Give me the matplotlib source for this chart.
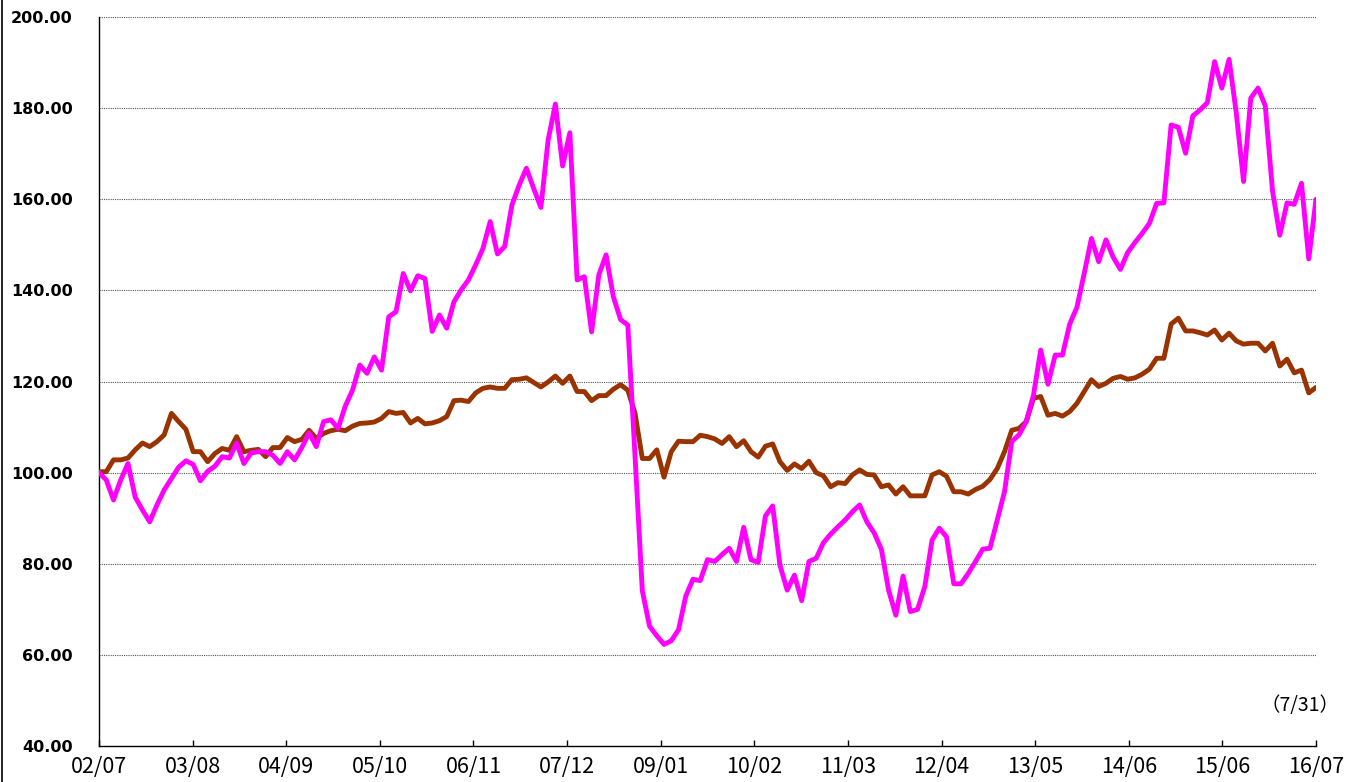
import numpy as np
import matplotlib
matplotlib.use("Agg")
import matplotlib.pyplot as plt
from matplotlib.lines import Line2D

# tick labels on the category axis (yy/mm)
tick_labels = ['02/07', '03/08', '04/09', '05/10', '06/11', '07/12', '09/01',
               '10/02', '11/03', '12/04', '13/05', '14/06', '15/06', '16/07']

# magenta series (monthly, start = 100)
pink_vals = [
    100, 98.4, 94, 98.4, 102, 94.6, 91.8, 89.2, 92.9, 96.2,
    98.7, 101.2, 102.6, 101.8, 98.2, 100.3, 101.4, 103.5, 103.2, 106.5,
    102, 104.3, 104.6, 104.6, 103.8, 102, 104.6, 102.8, 105.5, 108.7,
    105.7, 111.2, 111.6, 109.7, 114.6, 118.1, 123.6, 121.8, 125.4, 122.5,
    134.2, 135.3, 143.7, 139.9, 143.2, 142.6, 131, 134.6, 131.7, 137.5,
    140.1, 142.3, 145.6, 149.2, 155.1, 148, 149.6, 158.7, 163.1, 166.8,
    162.4, 158.2, 173, 180.9, 167.3, 174.6, 142.3, 143, 130.9, 143.4,
    147.8, 138.6, 133.6, 132.4, 103.5, 74.1, 66.3, 64.2, 62.3, 63.1,
    65.5, 72.9, 76.6, 76.3, 80.9, 80.5, 82, 83.4, 80.5, 88,
    80.9, 80.3, 90.5, 92.7, 79.7, 74.2, 77.5, 71.9, 80.5, 81.2,
    84.6, 86.5, 88.1, 89.6, 91.4, 92.9, 89.2, 86.8, 83.2, 74.2,
    68.7, 77.3, 69.5, 70, 75, 85.2, 87.8, 85.9, 75.6, 75.6,
    77.9, 80.5, 83.2, 83.4, 89.6, 95.8, 106.8, 108.3, 111.2, 117,
    126.9, 119.4, 125.8, 125.8, 132.6, 136.3, 143.7, 151.4, 146.3, 151.1,
    147.3, 144.6, 148.3, 150.5, 152.5, 154.7, 159.1, 159.2, 176.3, 175.8,
    170.1, 178.3, 179.6, 181.2, 190.2, 184.4, 190.7, 178.9, 163.9, 182.2,
    184.4, 180.5, 161.8, 152.1, 159.2, 158.9, 163.5, 146.9, 160,
]

# brown series (monthly, start = 100)
brown_vals = [
    100.2, 100.2, 102.8, 102.8, 103.2, 105, 106.5, 105.7, 106.8, 108.3,
    113, 111.2, 109.5, 104.6, 104.6, 102.4, 104.2, 105.3, 104.9, 107.9,
    104.6, 104.9, 105.1, 103.5, 105.5, 105.5, 107.7, 106.8, 107.3, 109.3,
    107.5, 108.6, 109.2, 109.5, 109.2, 110.2, 110.8, 110.9, 111.1, 111.9,
    113.4, 113, 113.2, 110.9, 111.9, 110.7, 110.9, 111.4, 112.3, 115.8,
    115.9, 115.6, 117.5, 118.5, 118.8, 118.5, 118.5, 120.4, 120.5, 120.8,
    119.8, 118.8, 119.9, 121.2, 119.6, 121.2, 117.8, 117.8, 115.8, 116.9,
    116.9, 118.3, 119.3, 118.1, 113, 103.1, 103.1, 105, 99, 104.6,
    106.9, 106.8, 106.8, 108.2, 107.9, 107.4, 106.4, 107.9, 105.7, 107,
    104.6, 103.4, 105.8, 106.3, 102.4, 100.5, 101.9, 100.9, 102.5, 100,
    99.3, 96.9, 97.8, 97.6, 99.5, 100.6, 99.6, 99.5, 96.9, 97.3,
    95.3, 96.9, 94.9, 94.9, 94.9, 99.5, 100.2, 99.2, 95.8, 95.8,
    95.3, 96.3, 97, 98.5, 100.9, 104.6, 109.3, 109.7, 111.2, 116.3,
    116.7, 112.6, 113, 112.4, 113.4, 115.2, 117.8, 120.4, 118.9, 119.6,
    120.7, 121.1, 120.5, 120.8, 121.6, 122.7, 125.1, 125.1, 132.6, 133.9,
    131.1, 131.1, 130.7, 130.2, 131.3, 129.1, 130.6, 128.9, 128.2, 128.4,
    128.4, 126.7, 128.4, 123.4, 124.9, 121.9, 122.5, 117.5, 118.7,
]

x = np.arange(len(pink_vals))

fig = plt.figure(figsize=(13.56, 7.82), dpi=100)
ax = fig.add_axes([99 / 1356, 36 / 782, 1217 / 1356, 729 / 782])

ax.plot(x, brown_vals, color='#993300', linewidth=3.5,
        solid_joinstyle='round', solid_capstyle='round', zorder=3)
ax.plot(x, pink_vals, color='#FF00FF', linewidth=3.5,
        solid_joinstyle='round', solid_capstyle='round', zorder=4)

ax.set_xlim(0, len(pink_vals) - 1)
ax.set_ylim(40, 200)

# y axis
ax.set_yticks(np.arange(40, 201, 20))
ax.set_yticklabels([f"{v:.2f}" for v in np.arange(40, 201, 20)],
                   fontfamily='DejaVu Sans', fontweight='bold', fontsize=11.5)
ax.tick_params(axis='y', length=0, pad=19)
for v in np.arange(60, 201, 20):
    ax.axhline(v, color='#555555', linewidth=0.8, linestyle=(0, (1, 1)), zorder=1)

# x axis
ax.set_xticks(np.linspace(0, len(pink_vals) - 1, len(tick_labels)))
ax.set_xticklabels(tick_labels, fontfamily=['Noto Sans CJK JP', 'DejaVu Sans'], fontsize=15.5)
ax.tick_params(axis='x', direction='in', length=4, width=1, pad=7)

for side in ['top', 'right']:
    ax.spines[side].set_visible(False)
for side in ['left', 'bottom']:
    ax.spines[side].set_linewidth(1)
    ax.spines[side].set_color('black')

ax.text(1.0197, 0.056, '（7/31）', transform=ax.transAxes, ha='right', va='center',
        fontfamily=['Noto Sans CJK JP', 'DejaVu Sans'], fontsize=14)

# thin frame line on the left edge of the picture
fig.add_artist(Line2D([0.0012, 0.0012], [0, 1], color='black', linewidth=1.2))

fig.savefig('out.png', dpi=100)
